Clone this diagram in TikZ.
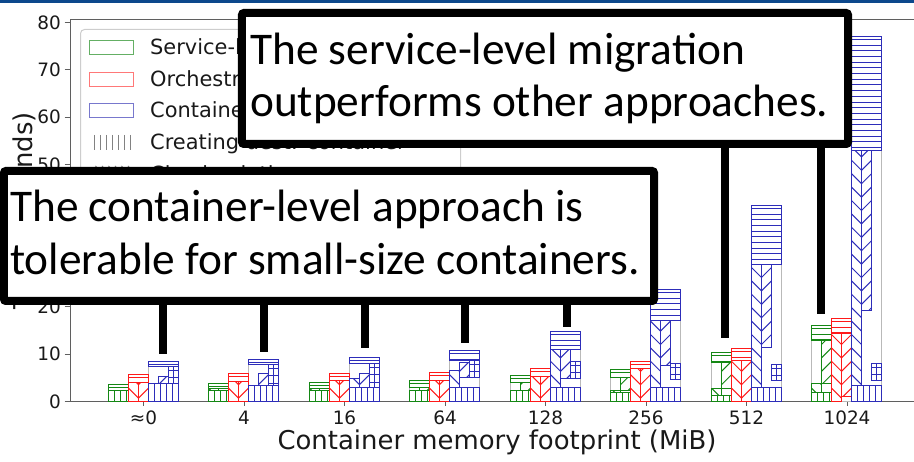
\documentclass[tikz,border=0pt]{standalone}
\usepackage{fontspec}
\setmainfont{DejaVu Sans}
\newfontfamily\callfont{Carlito}

\definecolor{gC}{RGB}{20,135,20}
\definecolor{rC}{RGB}{255,25,25}
\definecolor{bC}{RGB}{45,45,185}
\definecolor{gLt}{RGB}{100,175,100}
\definecolor{rLt}{RGB}{255,120,120}
\definecolor{bLt}{RGB}{120,120,205}
\definecolor{spine}{RGB}{95,95,95}
\definecolor{barline}{RGB}{185,185,185}
\definecolor{header}{RGB}{12,72,140}
\definecolor{legframe}{RGB}{205,205,205}
\definecolor{hatchgray}{RGB}{130,130,130}
\definecolor{txt}{RGB}{25,25,25}

\tikzset{
  hl/.style={line width=1bp},
  totalbar/.style={draw=barline,line width=1bp,fill=white},
  callout/.style={draw=black,line width=8bp,fill=white,rounded corners=2bp,inner sep=0pt},
  pointer/.style={draw=black,line width=8bp},
  tick/.style={draw=spine,line width=1bp},
  ticklabel/.style={text=txt,inner sep=0pt,font=\fontsize{18.5}{22}\selectfont},
  axislabel/.style={text=txt,inner sep=0pt,font=\fontsize{26}{30}\selectfont},
  legtext/.style={text=txt,inner sep=0pt,anchor=base west,font=\fontsize{21}{25}\selectfont},
  calltext/.style={text=black,inner sep=0pt,anchor=base west,font=\fontsize{45.5}{52}\callfont},
}

% hatch fillers: #1 colour, #2..#5 = x1, y1, x2, y2 (y grows downwards)
\newcommand\hatchH[5]{\begin{scope}\clip ({#2},#3) rectangle ({#4},#5);
  \pgfmathtruncatemacro\nn{((#5)-(#3))/5.7}
  \foreach \k in {0,...,\nn}{\draw[#1,hl] ({#2},{#3+round(2.85+5.7*\k)}) -- ({#4},{#3+round(2.85+5.7*\k)});}
  \end{scope}}
\newcommand\hatchV[5]{\begin{scope}\clip ({#2},#3) rectangle ({#4},#5);
  \pgfmathtruncatemacro\nn{((#4)-(#2))/6}
  \foreach \k in {1,...,\nn}{\draw[#1,hl] ({#2+6*\k},#3) -- ({#2+6*\k},#5);}
  \end{scope}}
\newcommand\hatchBS[5]{\begin{scope}\clip ({#2},#3) rectangle ({#4},#5);
  \pgfmathtruncatemacro\ka{(401-(#5))/13.4-1}
  \pgfmathtruncatemacro\kb{(401-(#3))/13.4+2}
  \foreach \k in {\ka,...,\kb}{\draw[#1,hl] ({#2},{401-13.4*\k}) -- ({#4},{401-13.4*\k+((#4)-(#2))});}
  \end{scope}}
\newcommand\hatchFS[5]{\begin{scope}\clip ({#2},#3) rectangle ({#4},#5);
  \pgfmathtruncatemacro\ka{(401-(#5))/13.4-1}
  \pgfmathtruncatemacro\kb{(401-(#3))/13.4+2}
  \foreach \k in {\ka,...,\kb}{\draw[#1,hl] ({#2},{401-13.4*\k+((#4)-(#2))}) -- ({#4},{401-13.4*\k});}
  \end{scope}}
\newcommand\hatchP[5]{\begin{scope}\clip ({#2},#3) rectangle ({#4},#5);
  \draw[#1,hl] ({(#2+#4)/2},#3) -- ({(#2+#4)/2},#5);
  \pgfmathtruncatemacro\nn{((#5)-(#3))/7.5}
  \foreach \k in {0,...,\nn}{\draw[#1,hl] ({#2},{#3+round(3.75+7.5*\k)}) -- ({#4},{#3+round(3.75+7.5*\k)});}
  \end{scope}}

% one hatched segment of a stacked bar: colour, filler, x1, y1, x2, y2
\newcommand\piece[6]{#2{#1}{#3}{#4}{#5}{#6}\draw[#1,hl] ({#3},#4) rectangle ({#5},#6);}
% grey outline of a whole bar
\newcommand\grnT[1]{\draw[totalbar] ({\gx-35},401) rectangle ({\gx-15},#1);}
\newcommand\redT[1]{\draw[totalbar] ({\gx-15},401) rectangle ({\gx+5},#1);}
\newcommand\bluT[1]{\draw[totalbar] ({\gx+5},401) rectangle ({\gx+35},#1);}
% segments: full width, left, middle and right column
\newcommand\grnF[3]{\piece{gC}{#1}{\gx-35}{#2}{\gx-15}{#3}}
\newcommand\grnL[3]{\piece{gC}{#1}{\gx-35}{#2}{\gx-25}{#3}}
\newcommand\grnM[3]{\piece{gC}{#1}{\gx-25}{#2}{\gx-15}{#3}}
\newcommand\redF[3]{\piece{rC}{#1}{\gx-15}{#2}{\gx+5}{#3}}
\newcommand\redL[3]{\piece{rC}{#1}{\gx-15}{#2}{\gx-5}{#3}}
\newcommand\redM[3]{\piece{rC}{#1}{\gx-5}{#2}{\gx+5}{#3}}
\newcommand\bluF[3]{\piece{bC}{#1}{\gx+5}{#2}{\gx+35}{#3}}
\newcommand\bluL[3]{\piece{bC}{#1}{\gx+5}{#2}{\gx+15}{#3}}
\newcommand\bluM[3]{\piece{bC}{#1}{\gx+15}{#2}{\gx+25}{#3}}
\newcommand\bluR[3]{\piece{bC}{#1}{\gx+25}{#2}{\gx+35}{#3}}

\begin{document}
\begin{tikzpicture}[x=1bp,y=-1bp]
\useasboundingbox (0,0) rectangle (914,462);
\begin{scope}
\clip (0,0) rectangle (914,462);

% header strip
\fill[header] (0,0) rectangle (914,3);

% axes frame
\draw[spine,line width=1bp] (914,19.5) -- (70.5,19.5) -- (70.5,401.5) -- (914,401.5);

% y axis ticks
\foreach \v in {0,...,8}{
  \pgfmathsetmacro\yy{401.5-47.375*\v}
  \draw[tick] (64.5,\yy) -- (70.5,\yy);
  \node[ticklabel,anchor=east] (yt\v) at (61,\yy) {\the\numexpr\v*10\relax};
}

% x axis ticks
\foreach \lab [count=\i from 0] in {≈0,4,16,64,128,256,512,1024}{
  \pgfmathsetmacro\xx{143.5+100.5*\i}
  \draw[tick] (\xx,401.5) -- (\xx,406);
  \node[ticklabel,anchor=base] (xt\i) at (\xx,424.5) {\lab};
}

% axis titles
\node[axislabel,anchor=base] (xlabel) at (497,449) {Container memory footprint (MiB)};
\node[axislabel,anchor=base,rotate=90] (ylabel) at (32.5,211) {Time (seconds)};

% ---- stacked bars (half-pixel shift keeps hairlines crisp) ----
\begin{scope}[yshift=-0.5bp]
\def\gx{143.5}
\grnT{384}\redT{374}\bluT{361}
\grnF{\hatchH}{384}{390}\grnF{\hatchV}{390}{401}
\redF{\hatchH}{374}{382}\redL{\hatchBS}{382}{401}\redM{\hatchFS}{382}{401}
\bluF{\hatchH}{361}{366}\bluF{\hatchV}{383}{401}\bluM{\hatchFS}{376}{383}\bluR{\hatchP}{366}{383}

\def\gx{243.5}
\grnT{383}\redT{373}\bluT{359}
\grnF{\hatchH}{383}{388}\grnL{\hatchBS}{388}{390}\grnF{\hatchV}{390}{401}
\redF{\hatchH}{373}{381}\redL{\hatchBS}{381}{401}\redM{\hatchFS}{381}{401}
\bluF{\hatchH}{359}{364}\bluF{\hatchV}{385}{401}\bluM{\hatchFS}{373}{385}\bluR{\hatchP}{364}{385}

\def\gx{344.5}
\grnT{382}\redT{373}\bluT{357}
\grnF{\hatchH}{382}{388}\grnL{\hatchBS}{388}{390}\grnF{\hatchV}{390}{401}
\redF{\hatchH}{373}{380}\redL{\hatchBS}{380}{401}\redM{\hatchFS}{380}{401}
\bluF{\hatchH}{357}{363}\bluF{\hatchV}{387}{401}\bluL{\hatchBS}{378}{387}\bluM{\hatchFS}{373}{387}\bluR{\hatchP}{363}{387}

\def\gx{444.5}
\grnT{380}\redT{372}\bluT{350}
\grnF{\hatchH}{380}{387}\grnM{\hatchFS}{387}{390}\grnF{\hatchV}{390}{401}
\redF{\hatchH}{372}{380}\redL{\hatchBS}{380}{401}\redM{\hatchFS}{380}{401}
\bluF{\hatchH}{350}{360}\bluF{\hatchV}{387}{401}\bluL{\hatchBS}{370}{387}\bluM{\hatchFS}{362}{377}\bluR{\hatchP}{360}{377}

\def\gx{545.5}
\grnT{375}\redT{368}\bluT{331}
\grnF{\hatchH}{375}{382}\grnM{\hatchFS}{382}{390}\grnF{\hatchV}{390}{401}
\redF{\hatchH}{368}{376}\redL{\hatchBS}{376}{401}\redM{\hatchFS}{376}{401}
\bluF{\hatchH}{331}{349}\bluF{\hatchV}{387}{401}\bluL{\hatchBS}{349}{387}\bluM{\hatchFS}{349}{378}\bluR{\hatchP}{361}{378}

\def\gx{645.5}
\grnT{369}\redT{361}\bluT{289}
\grnF{\hatchH}{369}{377}\grnM{\hatchFS}{377}{390}\grnL{\hatchBS}{390}{392}\grnF{\hatchV}{392}{401}
\redF{\hatchH}{361}{368}\redL{\hatchBS}{368}{401}\redM{\hatchFS}{368}{401}
\bluF{\hatchH}{289}{320}\bluF{\hatchV}{387}{401}\bluL{\hatchBS}{320}{387}\bluM{\hatchFS}{320}{365}\bluR{\hatchP}{363}{379}

\def\gx{746.5}
\grnT{352}\redT{348}\bluT{205}
\grnF{\hatchH}{352}{362}\grnM{\hatchFS}{362}{388}\grnL{\hatchBS}{388}{395}\grnF{\hatchV}{395}{401}
\redF{\hatchH}{348}{360}\redL{\hatchBS}{360}{401}\redM{\hatchFS}{360}{401}
\bluF{\hatchH}{205}{264}\bluF{\hatchV}{387}{401}\bluL{\hatchBS}{264}{387}\bluM{\hatchFS}{264}{347}\bluR{\hatchP}{364}{380}

\def\gx{846.5}
\grnT{325}\redT{318}\bluT{36}
\grnF{\hatchH}{325}{340}\grnM{\hatchFS}{340}{383}\grnL{\hatchBS}{383}{392}\grnF{\hatchV}{392}{401}
\redF{\hatchH}{318}{333}\redL{\hatchBS}{333}{401}\redM{\hatchFS}{333}{396}
\bluF{\hatchH}{36}{150}\bluF{\hatchV}{385}{401}\bluL{\hatchBS}{150}{385}\bluM{\hatchFS}{150}{310}\bluR{\hatchP}{363}{380}
\end{scope}

% ---- legend ----
\draw[legframe,line width=1bp,fill=white,rounded corners=4bp] (80.5,29.5) rectangle (460.5,290);
\draw[gLt,line width=1bp] (89.5,40.5) rectangle (133.5,54.5);
\draw[rLt,line width=1bp] (89.5,72.5) rectangle (133.5,86.5);
\draw[bLt,line width=1bp] (89.5,103.5) rectangle (133.5,117.5);
\foreach \k in {0,...,6}{\draw[hatchgray,hl] ({94.5+6*\k},135) -- ({94.5+6*\k},150);}
\begin{scope}
  \clip (91,166) rectangle (133,181);
  \foreach \k in {0,...,9}{\draw[hatchgray,hl] ({76+6.5*\k},166) -- ({91+6.5*\k},181);}
\end{scope}
\node[legtext] (lg1) at (150,55) {Service-level migration};
\node[legtext] (lg2) at (150,87) {Orchestrator-level migration};
\node[legtext] (lg3) at (150,118) {Container-level migration};
\node[legtext] (lg4) at (150,150) {Creating dest. container};
\node[legtext] (lg5) at (150,181.5) {Checkpointing};

% ---- callouts ----
\node[callout,minimum width=606bp,minimum height=131bp] (callA) at (545,78.5) {};
\node[callout,minimum width=650bp,minimum height=130bp] (callB) at (329,236) {};

\node[calltext] (callAone) at (250,65) {The service-level migration};
\node[calltext] (callAtwo) at (250,117) {outperforms other approaches.};
\node[calltext] (callBone) at (10,222) {The container-level approach is};
\node[calltext] (callBtwo) at (10,275) {tolerable for small-size containers.};

% pointer ends
\coordinate (pa) at (725,338);
\coordinate (pb) at (821,314);
\coordinate (q0) at (163,354);
\coordinate (q1) at (264,352);
\coordinate (q2) at (365,348);
\coordinate (q3) at (465,343);
\coordinate (q4) at (567,327);

\draw[pointer,shorten <=-6bp] (pa |- callA.south) -- (pa);
\draw[pointer,shorten <=-6bp] (pb |- callA.south) -- (pb);
\foreach \q in {q0,q1,q2,q3,q4}{
  \draw[pointer,shorten <=-6bp] (\q |- callB.south) -- (\q);
}
\end{scope}
\end{tikzpicture}
\end{document}
